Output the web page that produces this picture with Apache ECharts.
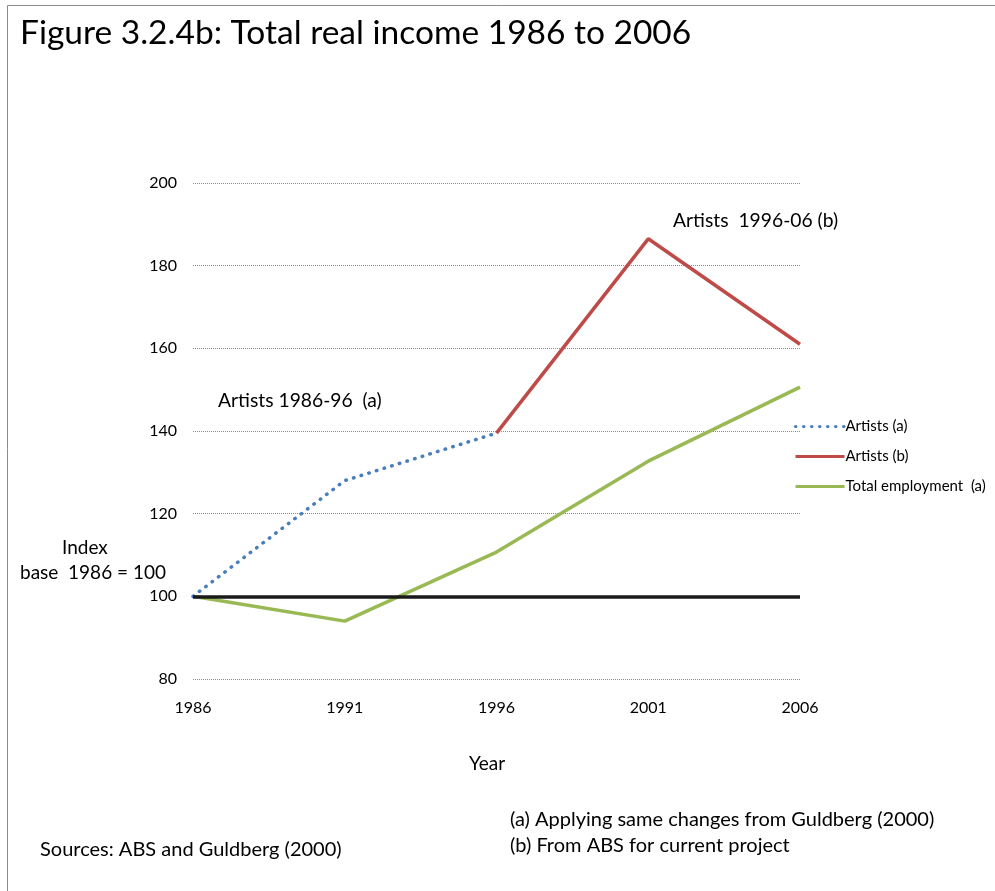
<!DOCTYPE html>
<html>
<head>
<meta charset="utf-8">
<script src="https://cdn.jsdelivr.net/npm/echarts@6/dist/echarts.min.js"></script>
<style>
  html, body { margin: 0; padding: 0; background: #fff; }
  #chart { width: 995px; height: 891px; }
</style>
</head>
<body>
<div id="chart"></div>
<script>
  // 数据
  var years = ['1986', '1991', '1996', '2001', '2006'];
  var artistsA = [100, 128, 139.5, null, null];
  var artistsB = [null, null, 139.5, 186.5, 161];
  var totalEmployment = [100, 94, 110.7, 132.7, 150.6];
  var yTicks = [80, 100, 120, 140, 160, 180, 200];

  var font = 'Lato, "Open Sans", sans-serif';
  var myChart = echarts.init(document.getElementById('chart'));

  var option = {
    backgroundColor: '#fff',
    textStyle: { fontFamily: font, color: '#000' },
    animation: false,
    grid: { left: 193, right: 195, top: 183, bottom: 212 },
    legend: {
      orient: 'vertical',
      left: 789,
      top: 414,
      itemWidth: 49,
      itemHeight: 10,
      itemGap: 15,
      itemStyle: { opacity: 0 },
      lineStyle: { width: 3 },
      textStyle: { fontFamily: font, fontSize: 15, color: '#000', padding: [0, 0, 0, -4] },
      data: ['Artists (a)', 'Artists (b)', 'Total employment  (a)']
    },
    xAxis: {
      type: 'category',
      boundaryGap: false,
      data: years,
      axisLine: { show: false },
      axisTick: { show: false },
      axisLabel: { color: '#000', fontSize: 16, fontFamily: font, margin: 21 }
    },
    yAxis: {
      type: 'value',
      min: yTicks[0],
      max: yTicks[yTicks.length - 1],
      interval: 20,
      axisLine: { show: false },
      axisTick: { show: false },
      axisLabel: { color: '#000', fontSize: 16, fontFamily: font, margin: 16 },
      splitLine: {
        show: true,
        lineStyle: { color: '#8c8c8c', type: [1, 1], width: 1 }
      }
    },
    series: [
      {
        name: 'Artists (a)',
        type: 'line',
        data: artistsA,
        symbol: 'none',
        connectNulls: false,
        lineStyle: { color: '#4a7ebb', width: 3.5, type: [0.5, 7.5], cap: 'round' },
        itemStyle: { color: '#4a7ebb' },
        z: 3
      },
      {
        name: 'Artists (b)',
        type: 'line',
        data: artistsB,
        symbol: 'none',
        lineStyle: { color: '#be4b48', width: 3.5 },
        itemStyle: { color: '#be4b48' },
        z: 3
      },
      {
        name: 'Total employment  (a)',
        type: 'line',
        data: totalEmployment,
        symbol: 'none',
        lineStyle: { color: '#98b954', width: 3.5 },
        itemStyle: { color: '#98b954' },
        z: 2,
        markLine: {
          silent: true,
          symbol: 'none',
          label: { show: false },
          lineStyle: { color: '#1a1a1a', type: 'solid', width: 3.5 },
          data: [{ yAxis: 100 }]
        }
      }
    ],
    graphic: [
      {
        type: 'rect',
        shape: { x: 7.5, y: 5.5, width: 1100, height: 1000 },
        style: { fill: 'none', stroke: '#8c8c8c', lineWidth: 1 },
        silent: true
      },
      {
        type: 'text', left: 20, top: 16,
        style: { text: 'Figure 3.2.4b: Total real income 1986 to 2006', fontSize: 33.5, fontFamily: font, fill: '#000' }
      },
      {
        type: 'text', left: 218, top: 391,
        style: { text: 'Artists 1986-96  (a)', fontSize: 19.3, fontFamily: font, fill: '#000' }
      },
      {
        type: 'text', left: 673, top: 211,
        style: { text: 'Artists  1996-06 (b)', fontSize: 19.3, fontFamily: font, fill: '#000' }
      },
      {
        type: 'text', left: 62, top: 538,
        style: { text: 'Index', fontSize: 19, fontFamily: font, fill: '#000' }
      },
      {
        type: 'text', left: 20, top: 563,
        style: { text: 'base  1986 = 100', fontSize: 19, fontFamily: font, fill: '#000' }
      },
      {
        type: 'text', left: 469, top: 754,
        style: { text: 'Year', fontSize: 19, fontFamily: font, fill: '#000' }
      },
      {
        type: 'text', left: 510, top: 810,
        style: { text: '(a) Applying same changes from Guldberg (2000)', fontSize: 20, fontFamily: font, fill: '#000' }
      },
      {
        type: 'text', left: 510, top: 836,
        style: { text: '(b) From ABS for current project', fontSize: 20, fontFamily: font, fill: '#000' }
      },
      {
        type: 'text', left: 40, top: 840,
        style: { text: 'Sources: ABS and Guldberg (2000)', fontSize: 20, fontFamily: font, fill: '#000' }
      }
    ]
  };

  myChart.setOption(option);
</script>
</body>
</html>
